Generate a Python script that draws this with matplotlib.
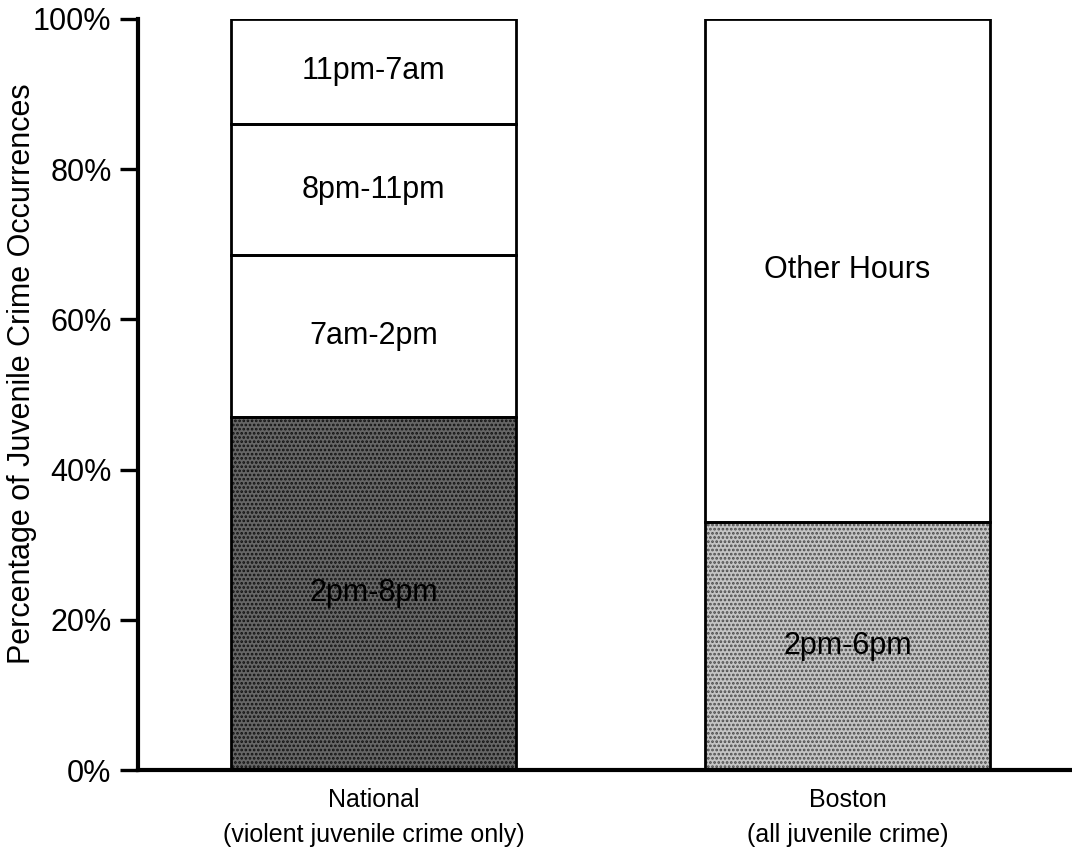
import numpy as np
import matplotlib
matplotlib.use('Agg')
import matplotlib.pyplot as plt
from matplotlib.ticker import FuncFormatter

plt.rcParams['font.family'] = ['Liberation Sans', 'DejaVu Sans']
plt.rcParams['hatch.linewidth'] = 1.3

# data (percent of juvenile crime occurrences)
groups = ['National\n(violent juvenile crime only)', 'Boston\n(all juvenile crime)']
national_labels = ['2pm-8pm', '7am-2pm', '8pm-11pm', '11pm-7am']
national_values = [47.0, 21.5, 17.5, 14.0]
boston_labels = ['2pm-6pm', 'Other Hours']
boston_values = [33.0, 67.0]
yticks = [0, 20, 40, 60, 80, 100]

fig = plt.figure(figsize=(10.72, 8.52), dpi=100)
ax = fig.add_axes([0.1287, 0.0962, 0.8713, 0.8818])

width = 0.6
stacks = [(national_labels, national_values), (boston_labels, boston_values)]
shade = [('#666666', '#111111'), ('#c4c4c4', '#4a4a4a')]

for i, (labels, values) in enumerate(stacks):
    bottom = 0
    for j, (lab, v) in enumerate(zip(labels, values)):
        if j == 0:
            fc, hc = shade[i]
            ax.bar(i, v, width, bottom=bottom, color=fc, edgecolor=hc,
                   hatch='....', linewidth=0, zorder=2)
        else:
            ax.bar(i, v, width, bottom=bottom, color='white', linewidth=0, zorder=2)
        ax.bar(i, v, width, bottom=bottom, fill=False, edgecolor='black',
               linewidth=2.0, zorder=3)
        ax.text(i, bottom + v / 2, lab, ha='center', va='center',
                fontsize=22, color='black', zorder=4)
        bottom += v

ax.set_xlim(-0.497, 1.474)
ax.set_ylim(0, 100)
ax.set_yticks(yticks)
ax.yaxis.set_major_formatter(FuncFormatter(lambda v, p: '%d%%' % v))
ax.set_xticks([0, 1])
ax.set_xticklabels(groups, fontsize=18, linespacing=1.6)
ax.tick_params(axis='x', length=0, pad=13)
ax.tick_params(axis='y', length=13, width=2.4, labelsize=22, pad=6)
ax.set_ylabel('Percentage of Juvenile Crime Occurrences', fontsize=22)
ax.yaxis.set_label_coords(-0.108, 0.527)

for s in ['top', 'right']:
    ax.spines[s].set_visible(False)
for s in ['left', 'bottom']:
    ax.spines[s].set_linewidth(3)

fig.savefig('out.png', dpi=100)
